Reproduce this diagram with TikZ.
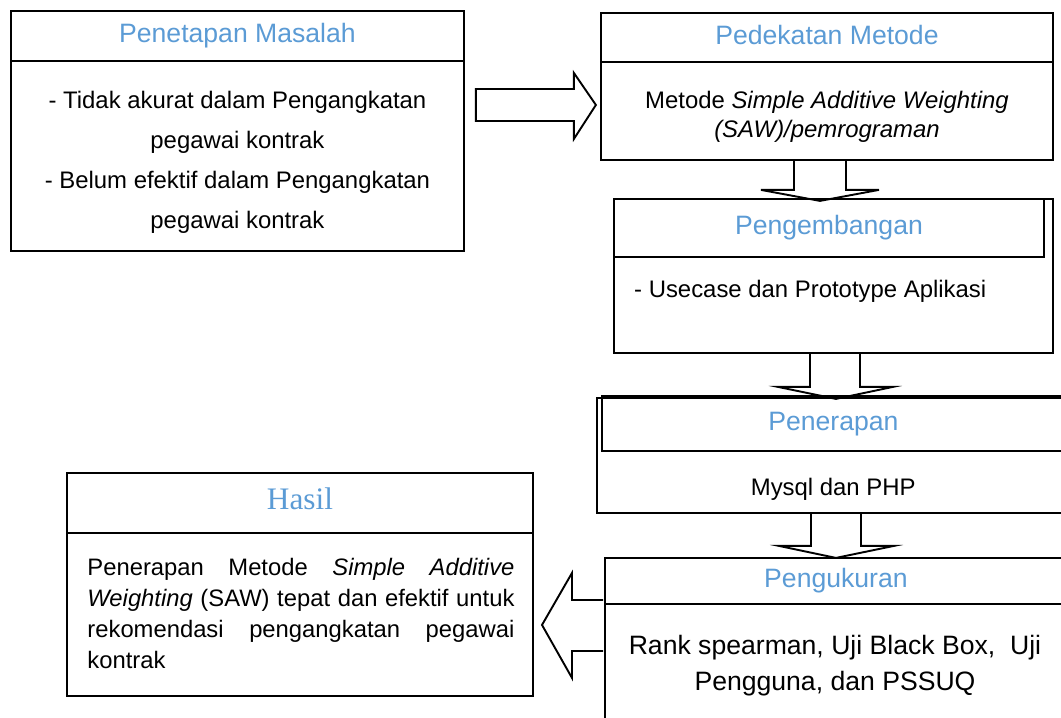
\documentclass[tikz,border=0pt]{standalone}
\usepackage{fontspec}
\setmainfont{Liberation Sans}
\newfontfamily\hurufserif{Liberation Serif}
\usepackage{xcolor}
\usetikzlibrary{calc}
\definecolor{birujudul}{RGB}{91,155,213}
\tikzset{
  kotak/.style={draw, line width=1.9pt, rectangle, inner sep=0pt},
  judul/.style={kotak, text=birujudul, text height=19.7pt, text depth=6.4pt, font=\fontsize{26.6}{32}\selectfont},
  isi/.style={align=center, inner sep=0pt, font=\fontsize{23.9}{29}\selectfont},
  panah/.style={line width=1.9pt, line join=miter}
}
\begin{document}
\begin{tikzpicture}[x=1pt, y=-1pt]
                    \useasboundingbox (0,0) rectangle (1061,718);
                    \clip (0,0) rectangle (1061,718);

                    % Kotak penetapan masalah
                    \node[kotak, minimum width=453pt, minimum height=240pt, anchor=north west] (masalah) at (10,10) {};%
                    \node[judul, minimum width=453pt, minimum height=50pt, anchor=north west] (jmasalah) at (masalah.north west) {Penetapan Masalah};%
                    \node[isi, font=\fontsize{23.9}{40}\selectfont] (tmasalah) at ($(jmasalah.south)!0.5!(masalah.south)+(0,5)$)
                      {- Tidak akurat dalam Pengangkatan\\pegawai kontrak\\- Belum efektif dalam Pengangkatan\\pegawai kontrak};%

                    % Kotak pedekatan metode
                    \node[kotak, minimum width=452pt, minimum height=147pt, anchor=north west] (metode) at (600,12) {};%
                    \node[judul, minimum width=452pt, minimum height=49pt, anchor=north west] (jmetode) at (metode.north west) {Pedekatan Metode};%
                    \node[isi] (tmetode) at ($(jmetode.south)!0.5!(metode.south)+(0,5)$)
                      {Metode \textit{Simple Additive Weighting}\\\textit{(SAW)/pemrograman}};%

                    % Kotak pengembangan
                    \node[kotak, minimum width=439pt, minimum height=154pt, anchor=north west] (kembang) at (613,198) {};%
                    \node[judul, minimum width=430pt, minimum height=58pt, anchor=north west] (jkembang) at (kembang.north west) {Pengembangan};%
                    \node[isi, anchor=west] (tkembang) at ($(kembang.west)+(21,15)$) {- Usecase dan Prototype Aplikasi};%

                    % Kotak penerapan
                    \node[kotak, minimum width=472pt, minimum height=115pt, anchor=north west] (terap) at (596,397) {};%
                    \node[judul, minimum width=463pt, minimum height=55pt, anchor=north west] (jterap) at (601,395) {Penerapan};%
                    \node[isi] (tterap) at ($(jterap.south)!0.5!(terap.south)+(0,6)$) {Mysql dan PHP};%

                    % Kotak pengukuran
                    \node[kotak, minimum width=462pt, minimum height=173pt, anchor=north west] (ukur) at (604,557) {};%
                    \node[judul, minimum width=462pt, minimum height=46pt, anchor=north west] (jukur) at (ukur.north west) {Pengukuran};%
                    \node[isi, font=\fontsize{26.6}{36}\selectfont] (tukur) at (835,666)
                      {Rank spearman, Uji Black Box,\ \ Uji\\Pengguna, dan PSSUQ};%

                    % Kotak hasil
                    \node[kotak, minimum width=466pt, minimum height=223pt, anchor=north west] (hasil) at (66,472) {};%
                    \node[judul, minimum width=466pt, minimum height=60pt, anchor=north west, text height=21pt, text depth=7pt, font=\hurufserif\fontsize{31.3}{36}\selectfont] (jhasil) at (hasil.north west) {Hasil};%
                    \node[isi, align=justify, text width=427pt, font=\fontsize{23.8}{31}\selectfont] (thasil) at ($(jhasil.south)!0.5!(hasil.south)+(1,-2)$)
                      {Penerapan Metode \textit{Simple Additive}\linebreak \textit{Weighting} (SAW) tepat dan efektif untuk\linebreak rekomendasi pengangkatan pegawai\linebreak kontrak};%

                    % Panah masalah ke metode
                    \draw[panah] ($(masalah.east)+(11,-42)$) -- ++(98,0) -- ++(0,-16) -- ++(22,32) -- ++(-22,34) -- ++(0,-18) -- ++(-98,0) -- cycle;%

                    % Panah metode ke kembang
                    \draw[panah] ($(metode.south)+(-33,0)$) -- ++(0,29) -- ++(-33,0) -- ++(59,11) -- ++(59,-11) -- ++(-33,0) -- ++(0,-29);%

                    % Panah kembang ke terap
                    \draw[panah] ($(kembang.south)+(-23.5,0)$) -- ++(0,33) -- ++(-32,0) -- ++(58,12) -- ++(57,-12) -- ++(-33,0) -- ++(0,-33);%

                    % Panah terap ke ukur
                    \draw[panah] ($(terap.south)+(-22,0)$) -- ++(0,32) -- ++(-32,0) -- ++(57,12) -- ++(58,-12) -- ++(-33,0) -- ++(0,-32);%

                    % Panah ukur ke hasil
                    \draw[panah] ($(ukur.west)+(-1,-44.5)$) -- ++(-31,0) -- ++(0,-27) -- ++(-30,52) -- ++(30,53) -- ++(0,-27) -- ++(31,0);%
\end{tikzpicture}
\end{document}
